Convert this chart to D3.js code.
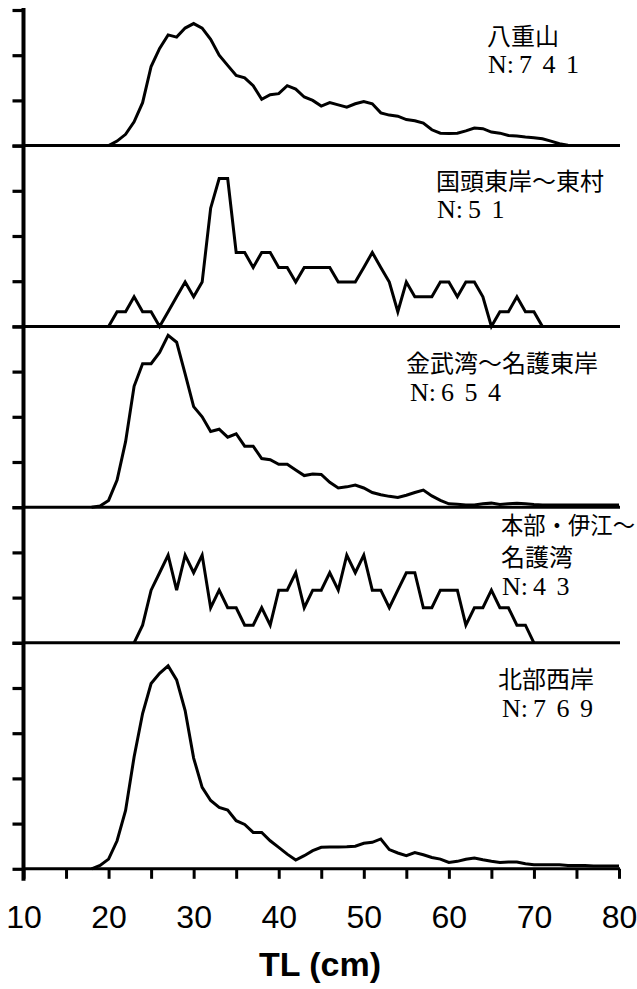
<!DOCTYPE html>
<html><head><meta charset="utf-8">
<script src="https://cdn.jsdelivr.net/npm/d3@7/dist/d3.min.js"></script>
<style>html,body{margin:0;padding:0;background:#fff;} svg{display:block;}</style>
</head><body><div id="chart"></div>
<script>
// Size classes (TL, cm)
const sizeClasses = [10,11,12,13,14,15,16,17,18,19,20,21,22,23,24,25,26,27,28,29,30,31,32,33,34,35,36,37,38,39,40,41,42,43,44,45,46,47,48,49,50,51,52,53,54,55,56,57,58,59,60,61,62,63,64,65,66,67,68,69,70,71,72,73,74,75,76,77,78,79,80];

// Frequency (%) per size class; null = no line drawn
const yaeyama = [null,null,null,null,null,null,null,null,null,null,
  0,0.2,0.5,1.05,1.9,3.5,4.3,4.9,4.8,5.2,
  5.4,5.2,4.7,4.0,3.55,3.1,3.0,2.65,2.05,2.25,
  2.3,2.65,2.5,2.15,2.0,1.75,1.9,1.8,1.7,1.85,
  1.95,1.85,1.45,1.35,1.3,1.15,1.1,1.0,0.7,0.55,
  0.53,0.55,0.65,0.78,0.75,0.6,0.55,0.45,0.42,0.38,
  0.35,0.3,0.2,0.08,0.02,0,0,0,0,0,0];
const kunigami = [null,null,null,null,null,null,null,null,null,null,
  0,0.65,0.65,1.31,0.65,0.65,0,0.65,1.31,1.96,
  1.31,1.96,5.23,6.54,6.54,3.27,3.27,2.61,3.27,3.27,
  2.61,2.61,1.96,2.61,2.61,2.61,2.61,1.96,1.96,1.96,
  2.61,3.27,2.61,1.96,0.65,1.96,1.31,1.31,1.31,1.96,
  1.96,1.31,1.96,1.96,1.31,0,0.65,0.65,1.31,0.65,
  0.65,0,null,null,null,null,null,null,null,null,null];
const kin = [null,null,null,null,null,null,null,null,0,0.05,
  0.3,1.2,2.9,5.35,6.35,6.35,6.85,7.6,7.3,5.9,
  4.45,4.0,3.35,3.45,3.1,3.25,2.7,2.7,2.15,2.1,
  1.9,1.9,1.65,1.4,1.47,1.45,1.1,0.85,0.9,0.98,
  0.85,0.65,0.55,0.48,0.43,0.53,0.65,0.76,0.5,0.3,
  0.15,0.13,0.1,0.1,0.15,0.18,0.12,0.15,0.18,0.15,
  0.12,0.1,0.1,0.1,0.1,0.1,0.1,0.1,0.1,0.1,0.1];
const motobu = [null,null,null,null,null,null,null,null,null,null,
  null,null,null,0,0.78,2.33,3.10,3.88,2.33,3.88,
  3.10,3.88,1.55,2.33,1.55,1.55,0.78,0.78,1.55,0.78,
  2.33,2.33,3.10,1.55,2.33,2.33,3.10,2.33,3.88,3.10,
  3.88,2.33,2.33,1.55,2.33,3.10,3.10,1.55,1.55,2.33,
  2.33,2.33,0.78,1.55,1.55,2.33,1.55,1.55,0.78,0.78,
  0,null,null,null,null,null,null,null,null,null,null];
const hokubu = [null,null,null,null,null,null,null,null,0,0.15,
  0.43,1.24,2.58,4.95,6.87,8.2,8.65,8.98,8.36,7.0,
  4.9,3.6,3.02,2.72,2.6,2.13,1.96,1.61,1.61,1.24,
  0.95,0.65,0.39,0.58,0.8,0.95,0.96,0.97,0.98,1.0,
  1.13,1.17,1.32,0.85,0.7,0.58,0.72,0.62,0.5,0.43,
  0.28,0.33,0.42,0.48,0.4,0.33,0.28,0.3,0.3,0.22,
  0.18,0.18,0.18,0.18,0.15,0.15,0.15,0.12,0.12,0.12,0.12];

const series = [yaeyama, kunigami, kin, motobu, hokubu];
const regionNames = [["八重山"],["国頭東岸～東村"],["金武湾～名護東岸"],["本部・伊江～","名護湾"],["北部西岸"]];
const sampleN = ["741","51","654","43","769"];
const yMax = [6,8,8,6,10];            // % axis maximum per panel
const yTickStep = 2;                  // % per y tick
const xTickValues = [10,15,20,25,30,35,40,45,50,55,60,65,70,75,80];
const xTickLabels = ["10","","20","","30","","40","","50","","60","","70","","80"];
const xTitle = "TL (cm)";

// ---- layout (kept separate from data) ----
const W = 637, H = 989;
const pxPerUnit = 22.6;
const firstTop = 10;
const labelLayout = [
  {x:487, y:[45], nx:488, ny:73},
  {x:436, y:[190], nx:437, ny:218},
  {x:406, y:[372], nx:410, ny:401},
  {x:501, y:[534,566], nx:502, ny:595, fit:[134,null]},
  {x:498, y:[688], nx:502, ny:717}
];

const svg = d3.select("#chart").append("svg").attr("width", W).attr("height", H);
const x = d3.scaleLinear().domain([10,80]).range([23.5,619]);

let cursor = firstTop;
const panels = series.map((s,i) => {
  const h = yMax[i]*pxPerUnit;
  const p = {pTop: cursor, base: cursor+h, data: s, i};
  cursor += h;
  return p;
});

panels.forEach(p => {
  const y = d3.scaleLinear().domain([0, yMax[p.i]]).range([p.base, p.pTop]);
  const g = svg.append("g");
  // y ticks
  const ya = d3.axisLeft(y).tickValues(d3.range(0, yMax[p.i]+0.001, yTickStep)).tickSize(11).tickFormat("");
  const ag = g.append("g").attr("transform", `translate(${x(10)},0)`).call(ya);
  ag.select(".domain").remove();
  ag.selectAll(".tick line").attr("stroke","#000").attr("stroke-width",3.2);
  // baseline
  g.append("line").attr("x1", x(10)).attr("x2", x(80)+1).attr("y1", y(0)).attr("y2", y(0))
    .attr("stroke","#000").attr("stroke-width",3);
  // data line
  const line = d3.line().defined(d => d.v != null).x(d => x(d.c)).y(d => y(d.v));
  g.append("path").datum(sizeClasses.map((c,k)=>({c, v:p.data[k]})))
    .attr("d", line).attr("fill","none").attr("stroke","#000").attr("stroke-width",3)
    .attr("stroke-linejoin","miter");
  // label block: region name line(s) + N line, as one text element
  const L = labelLayout[p.i];
  const t = g.append("text").attr("fill","#000");
  regionNames[p.i].forEach((s,k) => {
    const ts = t.append("tspan").attr("x", L.x).attr("y", L.y[k])
      .attr("font-family","'Noto Sans CJK JP'").attr("font-size",24).text(s);
    if (L.fit && L.fit[k]) ts.attr("textLength", L.fit[k]).attr("lengthAdjust","spacingAndGlyphs");
  });
  t.append("tspan").attr("x", L.nx).attr("y", L.ny)
    .attr("font-family","'Liberation Serif'").attr("font-size",26).text("N:");
  t.append("tspan").attr("dx",5).attr("letter-spacing",10.5)
    .attr("font-family","'Liberation Serif'").attr("font-size",26).text(sampleN[p.i]);
});

// left spine
svg.append("line").attr("x1", x(10)).attr("x2", x(10)).attr("y1", 8).attr("y2", panels[4].base+12)
  .attr("stroke","#000").attr("stroke-width",4);

// bottom axis
const xa = d3.axisBottom(x).tickValues(xTickValues).tickSize(10).tickPadding(26)
  .tickFormat((d,k) => xTickLabels[k]);
const xg = svg.append("g").attr("transform", `translate(0,${panels[4].base})`).call(xa);
xg.select(".domain").remove();
xg.selectAll(".tick line").attr("stroke","#000").attr("stroke-width",3);
xg.selectAll(".tick text").attr("fill","#000").attr("font-family","'Liberation Sans'").attr("font-size",32);

svg.append("text").attr("x", 320).attr("y", 976).attr("text-anchor","middle")
  .attr("font-family","'Liberation Sans'").attr("font-weight","bold").attr("font-size",34)
  .text(xTitle);
</script></body></html>
